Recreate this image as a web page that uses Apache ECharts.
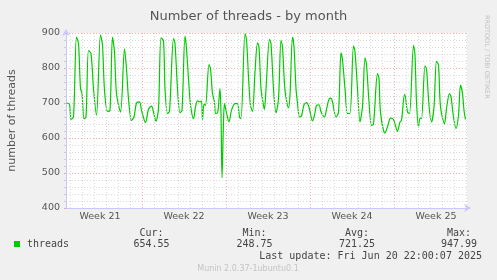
<!DOCTYPE html>
<html><head><meta charset="utf-8">
<script src="https://cdn.jsdelivr.net/npm/echarts@6/dist/echarts.min.js"></script>
<style>html,body{margin:0;padding:0;background:#f0f0f0}#c{width:497px;height:280px}</style>
</head><body><div id="c"></div>
<script>
const titleText = 'Number of threads - by month';
const yAxisName = 'number of threads';
const seriesName = 'threads';
// hours since the left edge of the month graph
const hours = [1,7,10,15,21,25,29,32,36,40,45,50,55,61,69,73,77,83,88,93,97,101,109,117,121,125,131,136,141,147,151,159,165,171,175,180,185,190,195,198,203,207,215,218,223,228,232,238,241,247,250,255,259,263,268,271,273,276,279,286,289,293,297,299,303,305,308,310,312,315,317,320,326,331,338,343,347,350,358,361,365,369,373,378,383,386,390,395,397,400,407,410,415,420,425,430,433,438,445,448,453,456,460,463,467,471,476,481,486,493,497,501,506,510,517,521,526,530,533,540,545,550,553,558,563,568,575,578,583,588,593,598,601,606,611,615,623,626,629,638,643,649,655,663,668,671,677,679,683,687,695,698,701,705,708,711,718,721,726,731,736,741,745,749,757,761,767,770,775,780,785,789,793,796,799];
const threads = [700,696,653,660,888,870,741,728,655,660,850,841,741,665,895,865,736,676,679,888,846,727,674,855,798,712,650,660,700,703,679,644,682,691,674,648,684,886,877,741,670,676,884,870,741,672,679,891,855,727,684,655,689,706,703,706,653,697,693,810,798,727,703,670,672,693,741,670,486,647,698,679,646,679,698,698,660,655,898,882,774,693,676,789,872,860,741,693,682,740,882,870,741,672,712,879,860,736,686,722,888,860,741,700,660,663,695,701,688,649,665,693,695,675,660,682,711,714,703,660,674,843,822,741,670,670,863,846,741,646,690,829,810,703,636,640,784,770,674,614,632,657,653,619,646,650,724,717,674,670,865,836,703,631,657,655,806,798,693,646,689,819,808,689,641,684,727,718,660,627,665,751,727,679,653];
const weekLabels = ['Week 21','Week 22','Week 23','Week 24','Week 25'];
const weekCentersH = [68,236,404,572,740];
const weekStartsH = [152,320,488,656];
const statLabels = ['Cur:','Min:','Avg:','Max:'];
const statValues = ['654.55','248.75','721.25','947.99'];
const lastUpdate = 'Last update: Fri Jun 20 22:00:07 2025';
const footerText = 'Munin 2.0.37-1ubuntu0.1';
const sideText = 'RRDTOOL / TOBI OETIKER';

const X_MAX = 802;
const gridDash = [1, 2];
const minorColor = '#d9d9d9';
const majorColor = 'rgba(240,110,110,0.55)';

// daily (minor) and weekly (major) vertical grid lines
const vLines = [];
for (let h = 8; h < X_MAX; h += 24) {
  const major = weekStartsH.indexOf(h) >= 0;
  vLines.push({ xAxis: h, lineStyle: { color: major ? majorColor : minorColor, type: gridDash, width: 1 } });
}

const mono = 'DejaVu Sans Mono';
const statX = [151.5, 254.5, 357, 459];
const graphics = [
  { type: 'rect', shape: { x: 14, y: 241, width: 6, height: 6 }, style: { fill: '#00cc00' } },
  { type: 'text', x: 27, y: 244.5, style: { text: seriesName, font: '10px ' + mono, fill: '#444', verticalAlign: 'middle' } },
  { type: 'text', x: 482, y: 256.5, style: { text: lastUpdate, font: '10px ' + mono, fill: '#444', align: 'right', verticalAlign: 'middle' } },
  { type: 'text', x: 248, y: 269, style: { text: footerText, font: '8px "DejaVu Sans"', fill: '#c4c4c4', align: 'center', verticalAlign: 'middle' } },
  { type: 'text', x: 487, y: 15, rotation: -Math.PI / 2, style: { text: sideText, font: '6.5px "DejaVu Sans"', fill: '#c0c0c0', align: 'left', verticalAlign: 'middle' } }
];
statLabels.forEach((s, i) => {
  graphics.push({ type: 'text', x: statX[i], y: 233, style: { text: s, font: '10px ' + mono, fill: '#444', align: 'center', verticalAlign: 'middle' } });
  graphics.push({ type: 'text', x: statX[i], y: 244.5, style: { text: statValues[i], font: '10px ' + mono, fill: '#444', align: 'center', verticalAlign: 'middle' } });
});

const axisCol = '#c8c8ff';
const chart = echarts.init(document.getElementById('c'), null, { renderer: 'canvas' });
chart.setOption({
  animation: false,
  backgroundColor: '#f0f0f0',
  textStyle: { fontFamily: 'DejaVu Sans' },
  title: { text: titleText, left: 'center', top: 5, textStyle: { fontSize: 13, fontWeight: 'normal', color: '#555', fontFamily: 'DejaVu Sans' } },
  grid: { left: 66, right: 30, top: 33, bottom: 72, show: true, backgroundColor: '#fff', borderWidth: 0, containLabel: false, outerBoundsMode: 'none' },
  xAxis: {
    type: 'value', min: 0, max: X_MAX,
    axisLine: { show: true, lineStyle: { color: axisCol, width: 1 }, symbol: ['none', 'arrow'], symbolSize: [6, 7], symbolOffset: [0, 4] },
    axisTick: { show: false },
    splitLine: { show: false },
    axisLabel: {
      customValues: weekCentersH,
      formatter: v => weekLabels[weekCentersH.indexOf(v)],
      fontSize: 9.5, color: '#555', margin: 4, fontFamily: 'DejaVu Sans'
    }
  },
  yAxis: {
    type: 'value', min: 400, max: 900, interval: 100,
    name: yAxisName, nameLocation: 'middle', nameGap: 48,
    nameTextStyle: { fontSize: 11, color: '#555', fontFamily: 'DejaVu Sans' },
    axisLine: { show: true, lineStyle: { color: axisCol, width: 1 }, symbol: ['none', 'arrow'], symbolSize: [6, 7], symbolOffset: [0, 4] },
    axisTick: { show: true, length: 2, lineStyle: { color: majorColor } },
    minorTick: { show: true, splitNumber: 5, length: 2, lineStyle: { color: '#ccc' } },
    axisLabel: { fontSize: 9.5, color: '#555', margin: 6, fontFamily: 'DejaVu Sans' },
    splitLine: { show: true, lineStyle: { color: majorColor, type: gridDash, width: 1 } },
    minorSplitLine: { show: true, lineStyle: { color: minorColor, type: gridDash, width: 1 } }
  },
  series: [
    {
      type: 'line', data: [], silent: true, z: 1,
      markLine: { silent: true, symbol: ['none', 'none'], label: { show: false }, animation: false, data: vLines }
    },
    {
      name: seriesName, type: 'line', z: 3,
      data: hours.map((h, i) => [h, threads[i]]),
      showSymbol: false, smooth: 0.3,
      lineStyle: { color: '#00cc00', width: 1.2 }
    }
  ],
  graphic: graphics
});
</script></body></html>
